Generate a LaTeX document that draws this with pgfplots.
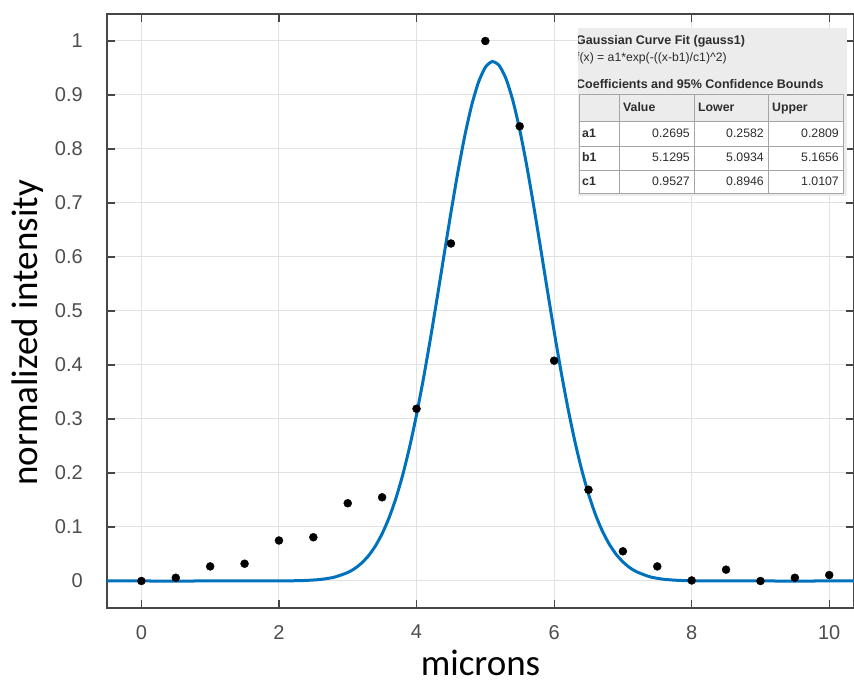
\documentclass[border=0pt]{standalone}
\usepackage{pgfplots}
\usepackage{pgfplotstable}
\pgfplotsset{compat=1.18}
\usepackage{fontspec}
\setmainfont{Liberation Sans}
\newfontfamily\calibri{Carlito}

\definecolor{fitblue}{RGB}{0,114,189}
\definecolor{axgray}{RGB}{70,70,70}
\definecolor{ticktext}{RGB}{77,77,77}
\definecolor{gridgray}{RGB}{226,226,226}
\definecolor{panelgray}{RGB}{236,236,236}
\definecolor{cellline}{RGB}{165,165,165}
\definecolor{paneltext}{RGB}{45,45,45}

% measured profile (normalized intensity vs position)
\pgfplotstableread{
x y
0.0 0.000
0.5 0.006
1.0 0.027
1.5 0.032
2.0 0.075
2.5 0.081
3.0 0.144
3.5 0.155
4.0 0.319
4.5 0.625
5.0 1.000
5.5 0.842
6.0 0.408
6.5 0.169
7.0 0.055
7.5 0.027
8.0 0.001
8.5 0.021
9.0 0.000
9.5 0.006
10.0 0.011
}\measured

% fitted gaussian, tabulated
\pgfplotstableread{
x y
-0.5 0
1.0 0
2.0 0.0001
2.2 0.0004
2.4 0.0011
2.6 0.0028
2.8 0.0069
3.0 0.0157
3.1 0.0230
3.2 0.0330
3.3 0.0465
3.4 0.0644
3.5 0.0876
3.6 0.1169
3.7 0.1531
3.8 0.1968
3.9 0.2484
4.0 0.3079
4.1 0.3746
4.2 0.4474
4.3 0.5245
4.4 0.6037
4.5 0.6820
4.6 0.7564
4.7 0.8236
4.8 0.8802
4.9 0.9235
5.0 0.9513
5.1 0.9619
5.2 0.9548
5.3 0.9304
5.4 0.8900
5.5 0.8358
5.6 0.7705
5.7 0.6973
5.8 0.6195
5.9 0.5402
6.0 0.4625
6.1 0.3887
6.2 0.3207
6.3 0.2598
6.4 0.2065
6.5 0.1612
6.6 0.1235
6.7 0.0929
6.8 0.0686
6.9 0.0497
7.0 0.0354
7.1 0.0247
7.2 0.0170
7.4 0.0075
7.6 0.0031
7.8 0.0012
8.0 0.0004
8.2 0.0001
9.0 0
10.36 0
}\fitcurve

\begin{document}
\begin{tikzpicture}[x=1pt,y=1pt]
\path[use as bounding box] (0,0) rectangle (854,690);
\begin{axis}[
  at={(107pt,82pt)}, anchor=south west,
  scale only axis, width=747pt, height=594pt,
  xmin=-0.5, xmax=10.36, ymin=-0.05, ymax=1.05,
  xtick={0,2,4,6,8,10},
  ytick={0,0.1,0.2,0.3,0.4,0.5,0.6,0.7,0.8,0.9,1},
  yticklabels={0,0.1,0.2,0.3,0.4,0.5,0.6,0.7,0.8,0.9,1},
  grid=major, major grid style={gridgray, line width=1pt},
  axis line style={axgray, line width=1.3pt},
  tick align=inside, major tick length=8pt,
  tick style={axgray, line width=1.1pt},
  /pgf/number format/assume math mode=true,
  ticklabel style={font=\fontsize{20}{24}\selectfont, text=ticktext},
  yticklabel style={inner sep=0pt, xshift=-24pt},
  xticklabel style={inner sep=0pt, yshift=-17pt},
  xlabel={microns}, ylabel={normalized intensity},
  every axis x label/.style={at={(axis description cs:0.5,0)}, anchor=base,
    yshift=-68pt, font=\calibri\fontsize{37}{44}\selectfont},
  every axis y label/.style={at={(axis description cs:-0.0937,0.463)}, anchor=base,
    rotate=90, font=\calibri\fontsize{37}{44}\selectfont},
  clip=true,
]
\addplot[fitblue, line width=3pt, smooth, tension=0.4] table {\fitcurve};
\addplot[only marks, mark=*, mark size=4pt, black] table {\measured};
\end{axis}

% fit result panel
\begin{scope}
\clip (578,490) rectangle (848,664);
\fill[panelgray] (570,494) rectangle (847,662);
\fill[white] (579,497) rectangle (843,569);
\draw[cellline, line width=0.9pt] (579,497) rectangle (843,596);
\foreach \yy in {569,544,520} \draw[cellline, line width=0.9pt] (579,\yy) -- (843,\yy);
\foreach \xx in {619,694,768} \draw[cellline, line width=0.9pt] (\xx,497) -- (\xx,596);
\begin{scope}[every node/.style={inner sep=0pt, text=paneltext}]
\node[anchor=base west, font=\bfseries\fontsize{12.5}{14}\selectfont] at (576,645) {Gaussian Curve Fit (gauss1)};
\node[anchor=base west, font=\fontsize{12.2}{14}\selectfont] at (576,628) {f(x) = a1*exp(-((x-b1)/c1)\textasciicircum 2)};
\node[anchor=base west, font=\bfseries\fontsize{12.5}{14}\selectfont] at (576,601) {Coefficients and 95\% Confidence Bounds};
\node[anchor=base west, font=\bfseries\fontsize{12.3}{14}\selectfont] at (623,578) {Value};
\node[anchor=base west, font=\bfseries\fontsize{12.3}{14}\selectfont] at (698,578) {Lower};
\node[anchor=base west, font=\bfseries\fontsize{12.3}{14}\selectfont] at (772,578) {Upper};
\node[anchor=base west, font=\bfseries\fontsize{12.3}{14}\selectfont] at (582,552) {a1};
\node[anchor=base west, font=\bfseries\fontsize{12.3}{14}\selectfont] at (582,528) {b1};
\node[anchor=base west, font=\bfseries\fontsize{12.3}{14}\selectfont] at (582,504) {c1};
\node[anchor=base east, font=\fontsize{12.3}{14}\selectfont] at (690,552) {0.2695};
\node[anchor=base east, font=\fontsize{12.3}{14}\selectfont] at (764,552) {0.2582};
\node[anchor=base east, font=\fontsize{12.3}{14}\selectfont] at (839,552) {0.2809};
\node[anchor=base east, font=\fontsize{12.3}{14}\selectfont] at (690,528) {5.1295};
\node[anchor=base east, font=\fontsize{12.3}{14}\selectfont] at (764,528) {5.0934};
\node[anchor=base east, font=\fontsize{12.3}{14}\selectfont] at (839,528) {5.1656};
\node[anchor=base east, font=\fontsize{12.3}{14}\selectfont] at (690,504) {0.9527};
\node[anchor=base east, font=\fontsize{12.3}{14}\selectfont] at (764,504) {0.8946};
\node[anchor=base east, font=\fontsize{12.3}{14}\selectfont] at (839,504) {1.0107};
\end{scope}
\end{scope}
\end{tikzpicture}
\end{document}
